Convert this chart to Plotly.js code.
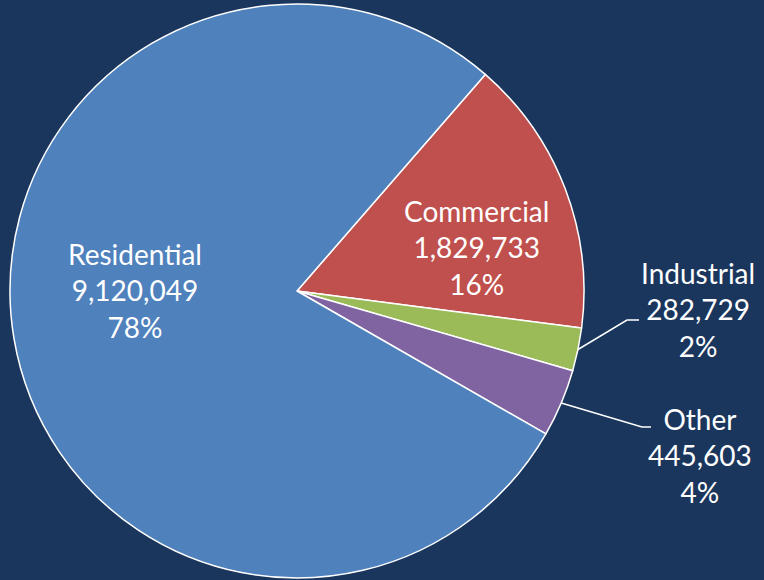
<!DOCTYPE html>
<html>
<head>
<meta charset="utf-8">
<script src="https://cdn.plot.ly/plotly-3.0.1.min.js"></script>
<style>html,body{margin:0;padding:0;background:#1a365d;}#chart{width:764px;height:580px;}</style>
</head>
<body>
<div id="chart"></div>
<script>
const categories = ['Commercial', 'Industrial', 'Other', 'Residential'];
const customers = [1829733, 282729, 445603, 9120049];
const sliceColors = ['#c0504d', '#9bbb59', '#8064a2', '#4f81bd'];

// layout constants (pixels)
const W = 764, H = 580;
const CX = 297, CY = 291, R = 287;
const START_ANGLE = 41; // degrees clockwise from 12 o'clock
// label anchor positions (pixel centres) and leader elbows, per category
const labelAnchors = {
  Commercial: [476, 248],
  Industrial: [698, 309],
  Other: [700, 455],
  Residential: [135, 290]
};
const leaderElbows = {
  Industrial: {bend: [627, 320], end: [639, 320]},
  Other: {bend: [642, 427], end: [651, 427]}
};

const total = customers.reduce((a, b) => a + b, 0);

const trace = {
  type: 'pie',
  labels: categories,
  values: customers,
  sort: false,
  direction: 'clockwise',
  rotation: START_ANGLE,
  marker: {colors: sliceColors, line: {color: '#ffffff', width: 1.5}},
  textinfo: 'none',
  hoverinfo: 'none',
  showlegend: false,
  domain: {x: [(CX - R) / W, (CX + R) / W], y: [1 - (CY + R) / H, 1 - (CY - R) / H]}
};

const px = x => x / W;
const py = y => 1 - y / H;

const annotations = [];
const shapes = [];
let cum = 0;
categories.forEach((cat, i) => {
  const v = customers[i];
  const mid = START_ANGLE + (cum + v / 2) / total * 360;
  cum += v;
  const pct = Math.round(v / total * 100);
  const [ax, ay] = labelAnchors[cat];
  annotations.push({
    xref: 'paper', yref: 'paper',
    x: px(ax), y: py(ay),
    xanchor: 'center', yanchor: 'middle',
    showarrow: false,
    align: 'center',
    text: cat + '<br>' + v.toLocaleString('en-US') + '<br>' + pct + '%',
    font: {family: 'Lato, sans-serif', size: 28, color: '#ffffff'}
  });
  if (leaderElbows[cat]) {
    const a = mid * Math.PI / 180;
    const sx = CX + R * Math.sin(a), sy = CY - R * Math.cos(a);
    const e = leaderElbows[cat];
    shapes.push({
      type: 'path', xref: 'paper', yref: 'paper',
      path: 'M ' + px(sx) + ',' + py(sy) + ' L ' + px(e.bend[0]) + ',' + py(e.bend[1]) + ' L ' + px(e.end[0]) + ',' + py(e.end[1]),
      line: {color: '#ffffff', width: 1.5}
    });
  }
});

const layout = {
  width: W, height: H,
  margin: {l: 0, r: 0, t: 0, b: 0},
  paper_bgcolor: '#1a365d',
  plot_bgcolor: '#1a365d',
  showlegend: false,
  annotations: annotations,
  shapes: shapes
};

Plotly.newPlot('chart', [trace], layout, {displayModeBar: false, staticPlot: true});
</script>
</body>
</html>
